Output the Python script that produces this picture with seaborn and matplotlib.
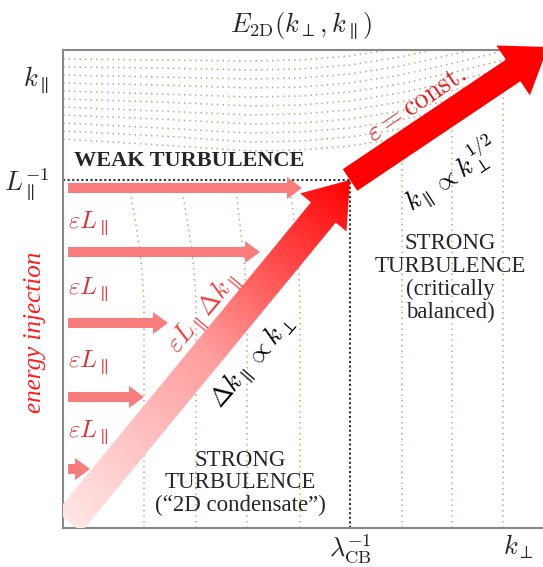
import numpy as np
import matplotlib
matplotlib.use("Agg")
import matplotlib.pyplot as plt
import seaborn as sns
from matplotlib.patches import FancyArrow
from matplotlib.colors import LinearSegmentedColormap

# schematic coordinates: k_perp in [0, 480], k_par in [0, 478]
k_perp_cb = 287          # lambda_CB^-1
k_par_L = 348            # L_par^-1

# contours of E_2D in the weak-turbulence region (upper part)
upper_x = [0, 97, 187, 237, 287, 337, 387, 437, 467]
upper_rows = [
    [469, 468, 467, 468, 472, 480, 490],
    [461, 460, 458, 459, 463, 471, 482, 494],
    [453, 451, 449, 450, 454, 462, 473, 485],
    [445, 443, 440, 441, 445, 453, 464, 476],
    [437, 434, 431, 432, 436, 444, 455, 467, 476],
    [429, 426, 422, 423, 427, 435, 446, 458],
    [421, 417, 413, 414, 418, 426, 437, 449],
    [413, 409, 404, 405, 409, 417, 428, 440],
    [405, 400, 395, 396, 400, 408, 419],
    [397, 392, 386, 387, 391, 399, 410],
    [389, 383, 377, 378, 382, 390],
]

# contours in the "2D condensate" region (bend near L_par^-1)
lower_y = [0, 228, 268, 303, 338]
lower_cols = [
    [81, 81, 78, 73, 67],
    [133, 133, 130, 125, 119],
    [184, 184, 181, 177, 173],
    [237, 237, 235, 232, 227],
]

# vertical contours in the critically balanced region
right_x = [339, 389, 440]
right_top = [378, 413, 448]

# energy injection arrows
inject_y = [340, 276, 205, 131, 59]
inject_end = [239, 197, 105, 81, 27]
label_y = [305, 239, 166, 96]

# cascade arrows
cascade_start = (6, 6)
cascade_end = (k_perp_cb, k_par_L)
cb_start = (k_perp_cb, k_par_L)
cb_end = (485, 481)

sns.set_style("white")
plt.rcParams["mathtext.fontset"] = "cm"
plt.rcParams["font.family"] = ["Liberation Serif", "DejaVu Serif"]

fig = plt.figure(figsize=(5.43, 5.67), dpi=100)
ax = fig.add_axes([63 / 543, 39 / 567, 480 / 543, 478 / 567])
ax.set_xlim(0, 480)
ax.set_ylim(0, 478)

dot_col = "#c8a585"
dots = (0, (1, 2.6))

for row in upper_rows:
    sns.lineplot(x=upper_x[:len(row)], y=row, sort=False, estimator=None,
                 color=dot_col, lw=1.1, linestyle=dots, ax=ax, zorder=1)
for col in lower_cols:
    sns.lineplot(x=col, y=lower_y, sort=False, estimator=None,
                 color=dot_col, lw=1.1, linestyle=dots, ax=ax, zorder=1)
for xr, yt in zip(right_x, right_top):
    ax.plot([xr, xr], [0, yt], color=dot_col, lw=1.1, linestyle=dots, zorder=1)

# boundaries L_par^-1 and lambda_CB^-1
ax.plot([0, k_perp_cb], [k_par_L, k_par_L], color="#333333", lw=1.5,
        linestyle=(0, (1, 1.2)), zorder=2)
ax.plot([k_perp_cb, k_perp_cb], [0, k_par_L], color="#333333", lw=1.5,
        linestyle=(0, (1, 1.2)), zorder=2)

# injection arrows
for yy, xe in zip(inject_y, inject_end):
    ax.add_patch(FancyArrow(5, yy, xe - 5, 0, width=10, head_width=22,
                            head_length=15, length_includes_head=True,
                            color="#f97c7c", lw=0, zorder=3))
for yy in label_y:
    ax.text(5, yy, r"$\varepsilon L_\parallel$", color="#d8302f",
            fontsize=18, ha="left", va="center", zorder=5)

# gradient arrow along k_par ~ k_perp
x0, y0 = cascade_start
x1, y1 = cascade_end
grad_arrow = FancyArrow(x0, y0, x1 - x0, y1 - y0, width=32, head_width=60,
                        head_length=42, length_includes_head=True,
                        facecolor="none", edgecolor="none", zorder=4)
ax.add_patch(grad_arrow)
gx, gy = np.meshgrid(np.linspace(-20, 320, 400), np.linspace(-20, 380, 400))
d = np.array([x1 - x0, y1 - y0])
t = ((gx - x0) * d[0] + (gy - y0) * d[1]) / (d @ d)
cmap = LinearSegmentedColormap.from_list("pinkred", ["#ffe6e6", "#ff9c9c", "#ff0000"])
im = ax.imshow(np.clip(t, 0, 1), cmap=cmap, extent=[-20, 320, -20, 380],
               origin="lower", aspect="auto", zorder=4, interpolation="bilinear")
im.set_clip_path(grad_arrow)

# critical balance arrow
ax.add_patch(FancyArrow(cb_start[0], cb_start[1], cb_end[0] - cb_start[0],
                        cb_end[1] - cb_start[1], width=26, head_width=60,
                        head_length=42, length_includes_head=True,
                        color="#ff0000", lw=0, zorder=4, clip_on=False))
ax.set_xlim(0, 480)
ax.set_ylim(0, 478)

# annotations
ax.text(11, 367, "WEAK TURBULENCE", fontsize=16, fontweight="bold",
        ha="left", va="center", zorder=5)
ax.text(387, 250, "STRONG\nTURBULENCE\n(critically\nbalanced)", fontsize=16.5,
        ha="center", va="center", linespacing=1.1, zorder=5)
ax.text(177, 45, "STRONG\nTURBULENCE\n(\u201c2D condensate\u201d)", fontsize=16.5,
        ha="center", va="center", linespacing=1.1, zorder=5)
ax.text(140, 215, r"$\varepsilon L_\parallel \Delta k_\parallel$", color="#e8413f",
        fontsize=19, rotation=50, ha="center", va="center",
        rotation_mode="anchor", zorder=5)
ax.text(190, 166, r"$\Delta k_\parallel \propto k_\perp$", color="black",
        fontsize=19, rotation=49, ha="center", va="center",
        rotation_mode="anchor", zorder=5)
ax.text(354, 424, r"$\varepsilon = {\rm const.}$", color="#d81e1e",
        fontsize=20, rotation=34, ha="center", va="center",
        rotation_mode="anchor", zorder=5)
ax.text(388, 354, r"$k_\parallel \propto k_\perp^{1/2}$", color="black",
        fontsize=19, rotation=33, ha="center", va="center",
        rotation_mode="anchor", zorder=5)
ax.text(-28, 196, "energy injection", color="#ff1a1a", fontsize=18,
        style="italic", rotation=90, ha="center", va="center", clip_on=False)

# axes
ax.set_xticks([k_perp_cb, 455])
ax.set_xticklabels([r"$\lambda_{\rm CB}^{-1}$", r"$k_\perp$"], fontsize=19)
ax.set_yticks([k_par_L + 2, 453])
ax.set_yticklabels([r"$L_\parallel^{-1}$", r"$k_\parallel$"], fontsize=19)
ax.tick_params(axis="x", length=0, pad=3)
ax.tick_params(axis="y", length=0, pad=10)
for side in ["left", "top", "bottom"]:
    ax.spines[side].set_color("#888888")
    ax.spines[side].set_linewidth(1.5)
ax.spines["right"].set_visible(False)

fig.text(301 / 543, 1 - 26 / 567, r"$E_{\rm 2D}(k_\perp, k_\parallel)$",
         fontsize=19, ha="center", va="center")

fig.savefig("out.png", dpi=100)
